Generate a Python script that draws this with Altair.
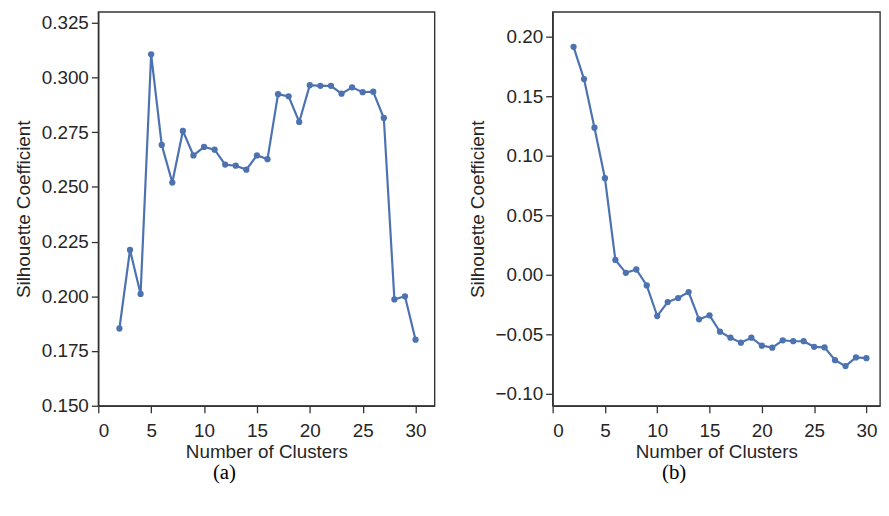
import altair as alt
import pandas as pd

clusters = list(range(2, 31))

silhouette_a = [0.1853, 0.2212, 0.2011, 0.3106, 0.2692, 0.2520, 0.2756, 0.2644,
                0.2683, 0.2670, 0.2602, 0.2597, 0.2579, 0.2644, 0.2627, 0.2924,
                0.2914, 0.2797, 0.2965, 0.2962, 0.2962, 0.2926, 0.2955, 0.2933,
                0.2935, 0.2815, 0.1986, 0.2000, 0.1802]

silhouette_b = [0.1916, 0.1645, 0.1237, 0.0812, 0.0125, 0.0017, 0.0045, -0.0089,
                -0.0346, -0.0229, -0.0195, -0.0145, -0.0374, -0.0340, -0.0478,
                -0.0528, -0.0570, -0.0528, -0.0595, -0.0612, -0.0550, -0.0558,
                -0.0558, -0.0605, -0.0610, -0.0717, -0.0767, -0.0694, -0.0700]

x_ticks = [0, 5, 10, 15, 20, 25, 30]
y_ticks_a = [0.150, 0.175, 0.200, 0.225, 0.250, 0.275, 0.300, 0.325]
y_ticks_b = [-0.10, -0.05, 0.00, 0.05, 0.10, 0.15, 0.20]

BLUE = "#4C72B0"


def panel(values, ydomain, yticks, fmt, xdomain, width, caption):
    df = pd.DataFrame({"k": clusters, "s": values})
    base = alt.Chart(df).encode(
        x=alt.X("k:Q", scale=alt.Scale(domain=xdomain, nice=False, zero=False),
                axis=alt.Axis(values=x_ticks, title="Number of Clusters", format="d",
                              labelPadding=9, titlePadding=2)),
        y=alt.Y("s:Q", scale=alt.Scale(domain=ydomain, nice=False, zero=False),
                axis=alt.Axis(values=yticks, format=fmt, title="Silhouette Coefficient")),
    )
    line = base.mark_line(color=BLUE, strokeWidth=2.2)
    pts = base.mark_circle(color=BLUE, size=40, opacity=1)
    return (line + pts).properties(
        width=width, height=397,
        title=alt.TitleParams(caption, orient="bottom", anchor="middle", frame="bounds",
                              font="Liberation Serif", fontSize=21, fontWeight="normal",
                              color="#000000", offset=1),
    )


left = panel(silhouette_a, [0.15, 0.33], y_ticks_a, ".3f", [0, 31.8], 339, "(a)")
right = panel(silhouette_b, [-0.11, 0.221], y_ticks_b, ".2f", [0, 31.3], 330, "(b)")

chart = alt.hconcat(left, right, spacing=32).properties(
    padding={"left": 5, "top": 1, "right": 0, "bottom": 0}
).configure_view(
    stroke="#333333", strokeWidth=1.4
).configure_axis(
    grid=False, domain=True, domainColor="#333333", domainWidth=1.4,
    ticks=True, tickColor="#333333", tickSize=7, tickWidth=1.3,
    labelFont="Liberation Sans", labelFontSize=19, labelColor="#262626",
    labelPadding=3,
    titleFont="Liberation Sans", titleFontSize=19, titleColor="#262626",
    titleFontWeight="normal",
).configure_axisY(titlePadding=8)

chart.save("out.html", embed_options={"renderer": "svg", "actions": False})
